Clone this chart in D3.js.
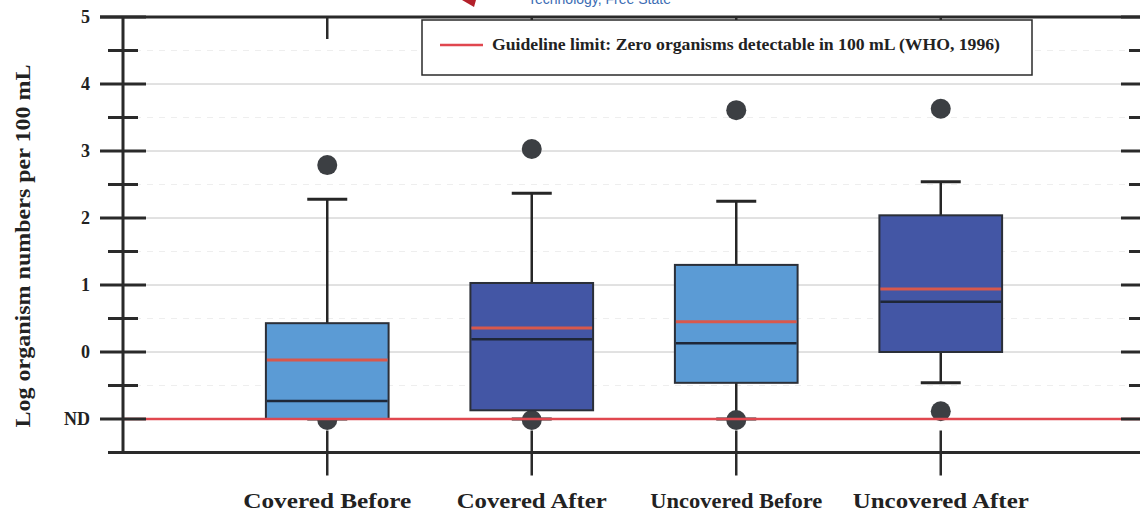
<!DOCTYPE html>
<html>
<head>
<meta charset="utf-8">
<style>
body { margin: 0; background: #fff; }
#chart { display: block; }
.lbl { font-family: "Liberation Serif", "DejaVu Serif", serif; font-weight: bold; fill: #222; }
</style>
</head>
<body>
<svg id="chart" width="1140" height="515"></svg>
<script src="https://cdn.jsdelivr.net/npm/d3@7/dist/d3.min.js"></script>
<script>

// values (log organism numbers, ND = -1)
var categories = ["Covered Before", "Covered After", "Uncovered Before", "Uncovered After"];
var boxLow     = [-1.0, -0.87, -0.46, 0.0];
var boxHigh    = [0.43, 1.03, 1.30, 2.04];
var medians    = [-0.73, 0.19, 0.13, 0.75];
var means      = [-0.12, 0.36, 0.45, 0.94];
var whiskerLow = [-1.0, -1.0, -1.0, -0.46];
var whiskerHigh = [2.28, 2.37, 2.25, 2.54];
var outliersHi = [2.79, 3.03, 3.61, 3.63];
var outliersLo = [-1.0, -1.0, -1.0, -0.87];
var boxColors  = ["#5b9bd5", "#4356a5", "#5b9bd5", "#4356a5"];

var majorTicks = [-1, 0, 1, 2, 3, 4, 5];
var minorTicks = [-0.5, 0.5, 1.5, 2.5, 3.5, 4.5];
var tickLabels = ["ND", "0", "1", "2", "3", "4", "5"];
var ndValue = -1;
var legendText = "Guideline limit: Zero organisms detectable in 100 mL (WHO, 1996)";

var svg = d3.select("#chart");
var plotLeft = 123, plotRight = 1144, plotTop = 17, plotBottom = 452.5;

var y = d3.scaleLinear().domain([-1.5, 5]).range([plotBottom, plotTop]);
var x = d3.scaleBand().domain(categories).range([225, 1043])
    .paddingInner(0.4).paddingOuter(0.2);
var cx = function(c) { return x(c) + x.bandwidth() / 2; };

var rows = categories.map(function(c, i) {
  return { cat: c, lo: boxLow[i], hi: boxHigh[i], med: medians[i], mean: means[i],
           wlo: whiskerLow[i], whi: whiskerHigh[i], ohi: outliersHi[i], olo: outliersLo[i],
           color: boxColors[i] };
});

// cut-off caption at the very top
svg.append("path")
  .attr("d", "M462,0 L476,0 L474,7 Z")
  .attr("fill", "#b3202a");
svg.append("text")
  .attr("x", 528).attr("y", 4)
  .style("font-family", "Liberation Sans, Arial, sans-serif")
  .style("font-size", "14px")
  .attr("fill", "#3b6cb3")
  .text("Technology, Free State");

// grid
svg.append("g").selectAll("line").data(minorTicks).enter().append("line")
  .attr("x1", plotLeft).attr("x2", plotRight)
  .attr("y1", function(d) { return y(d); }).attr("y2", function(d) { return y(d); })
  .attr("stroke", "#eeeeee").attr("stroke-width", 1).attr("stroke-dasharray", "6,6");
svg.append("g").selectAll("line").data(majorTicks.filter(function(d) { return d >= 0 && d < 5; }))
  .enter().append("line")
  .attr("x1", plotLeft).attr("x2", plotRight)
  .attr("y1", function(d) { return y(d); }).attr("y2", function(d) { return y(d); })
  .attr("stroke", "#c4c4c4").attr("stroke-width", 1);

var g = svg.append("g");

// whiskers
g.selectAll(".wh").data(rows).enter().append("line")
  .attr("x1", function(d) { return cx(d.cat); }).attr("x2", function(d) { return cx(d.cat); })
  .attr("y1", function(d) { return y(d.whi); }).attr("y2", function(d) { return y(d.wlo); })
  .attr("stroke", "#262626").attr("stroke-width", 2.5);
g.selectAll(".capHi").data(rows).enter().append("line")
  .attr("x1", function(d) { return cx(d.cat) - 20; }).attr("x2", function(d) { return cx(d.cat) + 20; })
  .attr("y1", function(d) { return y(d.whi); }).attr("y2", function(d) { return y(d.whi); })
  .attr("stroke", "#262626").attr("stroke-width", 3);
g.selectAll(".capLo").data(rows).enter().append("line")
  .attr("x1", function(d) { return cx(d.cat) - 20; }).attr("x2", function(d) { return cx(d.cat) + 20; })
  .attr("y1", function(d) { return y(d.wlo); }).attr("y2", function(d) { return y(d.wlo); })
  .attr("stroke", "#262626").attr("stroke-width", 3);

// outliers
g.selectAll(".ohi").data(rows).enter().append("circle")
  .attr("cx", function(d) { return cx(d.cat); }).attr("cy", function(d) { return y(d.ohi); })
  .attr("r", 10).attr("fill", "#3c3f43");
g.selectAll(".olo").data(rows).enter().append("circle")
  .attr("cx", function(d) { return cx(d.cat); }).attr("cy", function(d) { return y(d.olo) + 1; })
  .attr("r", 10).attr("fill", "#3c3f43");

// boxes
g.selectAll(".box").data(rows).enter().append("rect")
  .attr("x", function(d) { return x(d.cat); })
  .attr("width", x.bandwidth())
  .attr("y", function(d) { return y(d.hi); })
  .attr("height", function(d) { return y(d.lo) - y(d.hi); })
  .attr("fill", function(d) { return d.color; })
  .attr("stroke", "#2b2f38").attr("stroke-width", 2);
g.selectAll(".mean").data(rows).enter().append("line")
  .attr("x1", function(d) { return x(d.cat) + 1; }).attr("x2", function(d) { return x(d.cat) + x.bandwidth() - 1; })
  .attr("y1", function(d) { return y(d.mean); }).attr("y2", function(d) { return y(d.mean); })
  .attr("stroke", "#d8584c").attr("stroke-width", 3);
g.selectAll(".med").data(rows).enter().append("line")
  .attr("x1", function(d) { return x(d.cat) + 1; }).attr("x2", function(d) { return x(d.cat) + x.bandwidth() - 1; })
  .attr("y1", function(d) { return y(d.med); }).attr("y2", function(d) { return y(d.med); })
  .attr("stroke", "#1e2738").attr("stroke-width", 2.5);

// ND guideline
svg.append("line")
  .attr("x1", plotLeft).attr("x2", plotRight)
  .attr("y1", y(ndValue)).attr("y2", y(ndValue))
  .attr("stroke", "#e0474f").attr("stroke-width", 2.5);

// axes frame
var ax = svg.append("g").attr("stroke", "#2a2a2a");
ax.append("line").attr("x1", plotLeft).attr("x2", plotLeft).attr("y1", plotTop).attr("y2", plotBottom)
  .attr("stroke-width", 3);
ax.append("line").attr("x1", 100).attr("x2", 1140).attr("y1", plotTop).attr("y2", plotTop)
  .attr("stroke-width", 3);
ax.append("line").attr("x1", 108).attr("x2", 1140).attr("y1", plotBottom).attr("y2", plotBottom)
  .attr("stroke-width", 3);

// left ticks (cross the axis)
ax.selectAll(".lmaj").data(majorTicks).enter().append("line")
  .attr("x1", plotLeft - 23).attr("x2", plotLeft + 23)
  .attr("y1", function(d) { return y(d); }).attr("y2", function(d) { return y(d); })
  .attr("stroke-width", 3);
ax.selectAll(".lmin").data(minorTicks).enter().append("line")
  .attr("x1", plotLeft - 15).attr("x2", plotLeft + 15)
  .attr("y1", function(d) { return y(d); }).attr("y2", function(d) { return y(d); })
  .attr("stroke-width", 3);
// right ticks
ax.selectAll(".rmaj").data(majorTicks).enter().append("line")
  .attr("x1", plotRight - 23).attr("x2", plotRight)
  .attr("y1", function(d) { return y(d); }).attr("y2", function(d) { return y(d); })
  .attr("stroke-width", 3);
ax.selectAll(".rmin").data(minorTicks).enter().append("line")
  .attr("x1", plotRight - 15).attr("x2", plotRight)
  .attr("y1", function(d) { return y(d); }).attr("y2", function(d) { return y(d); })
  .attr("stroke-width", 3);
// category ticks
ax.selectAll(".bt").data(categories).enter().append("line")
  .attr("x1", cx).attr("x2", cx)
  .attr("y1", plotBottom - 22).attr("y2", plotBottom + 23)
  .attr("stroke-width", 2.5);
ax.selectAll(".tt").data(categories).enter().append("line")
  .attr("x1", cx).attr("x2", cx)
  .attr("y1", plotTop).attr("y2", plotTop + 22)
  .attr("stroke-width", 2.5);

// tick labels
svg.selectAll(".yl").data(majorTicks).enter().append("text")
  .attr("class", "lbl")
  .attr("x", 90).attr("y", function(d) { return y(d); })
  .attr("dy", "0.35em")
  .attr("text-anchor", "end")
  .style("font-size", "18px")
  .text(function(d, i) { return tickLabels[i]; });

var xLabelWidths = [168, 150, 172, 176];
svg.selectAll(".xl").data(categories).enter().append("text")
  .attr("class", "lbl")
  .attr("x", cx).attr("y", 508)
  .attr("text-anchor", "middle")
  .attr("textLength", function(d, i) { return xLabelWidths[i]; })
  .attr("lengthAdjust", "spacingAndGlyphs")
  .style("font-size", "22px")
  .text(function(d) { return d; });

svg.append("text")
  .attr("class", "lbl")
  .attr("transform", "translate(30,246) rotate(-90)")
  .attr("text-anchor", "middle")
  .attr("textLength", 363)
  .attr("lengthAdjust", "spacingAndGlyphs")
  .style("font-size", "22px")
  .text("Log organism numbers per 100 mL");

// legend
var lg = svg.append("g");
lg.append("rect")
  .attr("x", 422).attr("y", 20).attr("width", 610).attr("height", 55)
  .attr("fill", "#fff").attr("stroke", "#2a2a2a").attr("stroke-width", 1.5);
lg.append("line")
  .attr("x1", 440).attr("x2", 483).attr("y1", 45).attr("y2", 45)
  .attr("stroke", "#e0474f").attr("stroke-width", 2.5);
lg.append("text")
  .attr("class", "lbl")
  .attr("x", 492).attr("y", 50)
  .attr("textLength", 508)
  .attr("lengthAdjust", "spacingAndGlyphs")
  .style("font-size", "16px")
  .text(legendText);

</script>
</body>
</html>
